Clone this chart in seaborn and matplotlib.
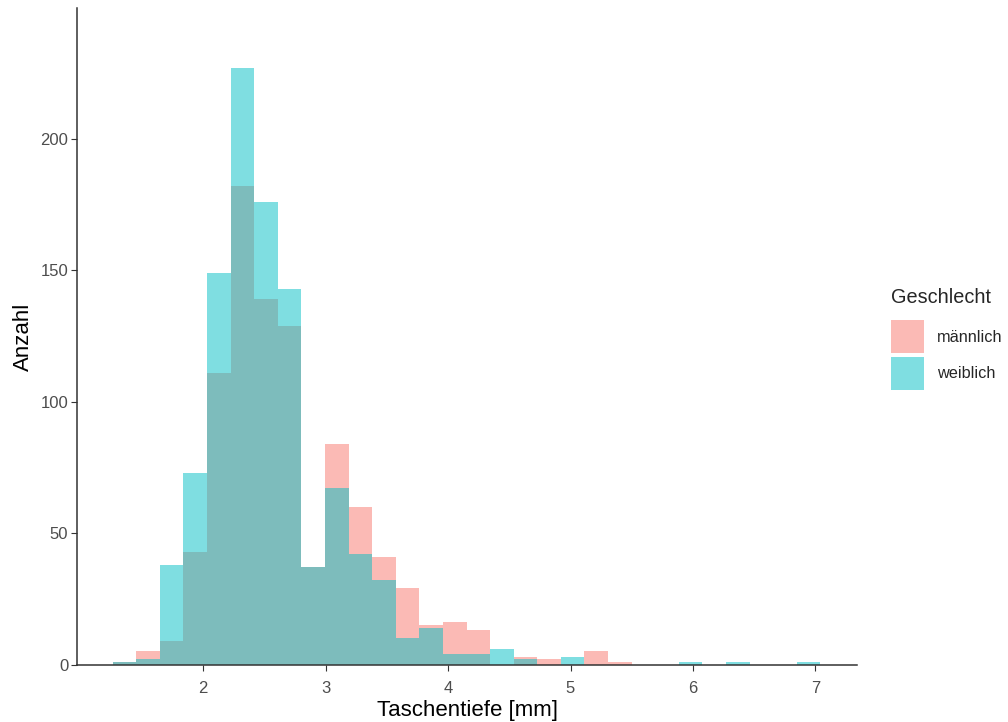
import numpy as np
import pandas as pd
import matplotlib
matplotlib.use("Agg")
import matplotlib.pyplot as plt
from matplotlib.patches import Patch
import seaborn as sns

# Histogram bins (30 equal-width bins)
bin_start = 1.26
bin_width = 0.1927
n_bins = 30

# Counts per bin for each group
maennlich = [1, 5, 9, 43, 111, 182, 139, 129, 37, 84,
             60, 41, 29, 15, 16, 13, 0, 3, 2, 0,
             5, 1, 0, 0, 0, 0, 0, 0, 0, 0]
weiblich = [1, 2, 38, 73, 149, 227, 176, 143, 37, 67,
            42, 32, 10, 14, 4, 4, 6, 2, 0, 3,
            0, 0, 0, 0, 1, 0, 1, 0, 0, 1]

groups = ["männlich", "weiblich"]
colors = {"männlich": "#F8766D", "weiblich": "#00BFC4"}
x_ticks = [2, 3, 4, 5, 6, 7]
y_ticks = [0, 50, 100, 150, 200]

edges = bin_start + bin_width * np.arange(n_bins + 1)
centers = (edges[:-1] + edges[1:]) / 2
df = pd.DataFrame({
    "Taschentiefe": np.concatenate([centers, centers]),
    "Anzahl": maennlich + weiblich,
    "Geschlecht": [groups[0]] * n_bins + [groups[1]] * n_bins,
})

sns.set_theme(style="ticks")
plt.rcParams["font.family"] = ["Liberation Sans", "DejaVu Sans"]

fig = plt.figure(figsize=(10.08, 7.22), dpi=100)
ax = fig.add_axes([0.0767, 0.0796, 0.8502 - 0.0767, 0.9885 - 0.0796])

# Overlaid histograms: männlich first, weiblich layered on top
for g in groups:
    sns.histplot(data=df[df["Geschlecht"] == g], x="Taschentiefe", weights="Anzahl",
                 bins=edges.tolist(), color=colors[g], alpha=0.5, linewidth=0,
                 edgecolor="none", ax=ax)

ax.set_xlim(0.9706, 7.3407)
ax.set_ylim(0, 249.7)
ax.set_xticks(x_ticks)
ax.set_yticks(y_ticks)
ax.set_xticklabels([str(t) for t in x_ticks])
ax.set_yticklabels([str(t) for t in y_ticks])
ax.tick_params(axis="both", labelsize=12, colors="#333333", labelcolor="#4D4D4D",
               length=4.5, width=0.8)
ax.tick_params(axis="x", pad=7)
ax.tick_params(axis="y", pad=2)
for side in ["top", "right"]:
    ax.spines[side].set_visible(False)
for side in ["left", "bottom"]:
    ax.spines[side].set_color("#333333")
    ax.spines[side].set_linewidth(1.1)

ax.set_xlabel("Taschentiefe [mm]", fontsize=16, color="black", labelpad=3)
ax.set_ylabel("Anzahl", fontsize=16, color="black", labelpad=5)

handles = [Patch(facecolor=colors[g], alpha=0.5, edgecolor="none") for g in groups]
leg = fig.legend(handles, groups, title="Geschlecht", loc="center left",
                 bbox_to_anchor=(0.884, 0.531), frameon=False,
                 fontsize=11.7, title_fontsize=14.3,
                 handlelength=2.0, handleheight=2.75, labelspacing=0.2,
                 handletextpad=0.8, borderpad=0, borderaxespad=0)
leg._legend_box.align = "left"
leg._legend_box.sep = 10

fig.savefig("out.png", dpi=100)
